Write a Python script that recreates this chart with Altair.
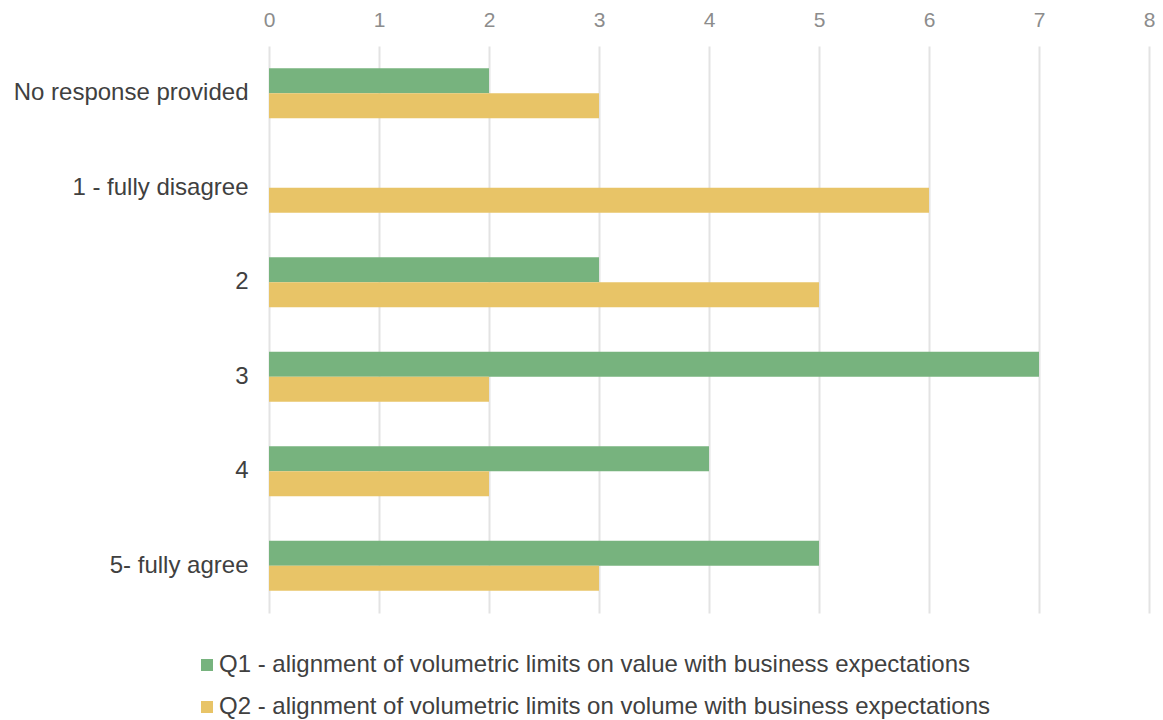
import altair as alt
import pandas as pd

categories = ["No response provided", "1 - fully disagree", "2", "3", "4", "5- fully agree"]
series = [
    "Q1 - alignment of volumetric limits on value with business expectations",
    "Q2 - alignment of volumetric limits on volume with business expectations",
]
q1_values = [2, 0, 3, 7, 4, 5]
q2_values = [3, 6, 5, 2, 2, 3]
x_ticks = [0, 1, 2, 3, 4, 5, 6, 7, 8]
colors = ["#77b37e", "#e8c467"]

rows = []
for c, v in zip(categories, q1_values):
    rows.append({"category": c, "series": series[0], "value": v})
for c, v in zip(categories, q2_values):
    rows.append({"category": c, "series": series[1], "value": v})
df = pd.DataFrame(rows)

font = "Liberation Sans"

chart = alt.Chart(df).mark_bar().encode(
    y=alt.Y(
        "category:N",
        sort=categories,
        scale=alt.Scale(paddingInner=0.471, paddingOuter=0.2355),
        axis=alt.Axis(
            title=None, ticks=False, domain=False, labelPadding=21,
            labelFontSize=24, labelColor="#404040", labelFont=font, labelLimit=400,
        ),
    ),
    yOffset=alt.YOffset("series:N", sort=series,
                        scale=alt.Scale(paddingInner=0, paddingOuter=0)),
    x=alt.X(
        "value:Q",
        scale=alt.Scale(domain=[0, 8], nice=False),
        axis=alt.Axis(
            orient="top", title=None, values=x_ticks, format="d",
            ticks=False, domain=False, labelPadding=16, labelFlush=False,
            labelFontSize=21, labelColor="#8c8c8c", labelFont=font,
            grid=True, gridColor="#e3e3e3", gridWidth=2,
        ),
    ),
    color=alt.Color(
        "series:N",
        sort=series,
        scale=alt.Scale(domain=series, range=colors),
        legend=alt.Legend(
            title=None, orient="none", legendX=-74, legendY=607,
            direction="vertical", symbolType="square", symbolSize=144,
            symbolStrokeWidth=0, labelFontSize=24, labelColor="#404040",
            labelFont=font, labelLimit=1000, rowPadding=18, labelOffset=0,
        ),
    ),
).properties(
    width=880, height=567,
    autosize=alt.AutoSizeParams(type="none"),
    padding={"left": 261, "top": 38, "right": 6, "bottom": 112},
).configure_view(stroke=None)

chart.save("out.html", embed_options={"renderer": "svg", "actions": False})
